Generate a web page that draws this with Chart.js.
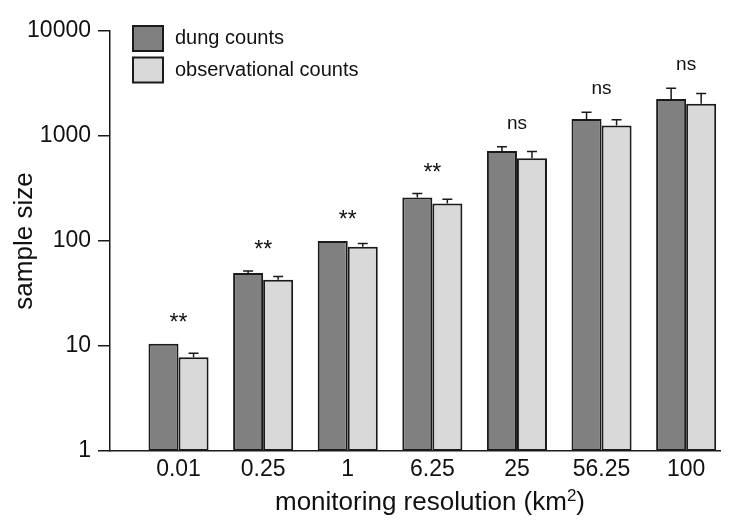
<!DOCTYPE html>
<html>
<head>
<meta charset="utf-8">
<script src="https://cdn.jsdelivr.net/npm/chart.js@4.4.0/dist/chart.umd.min.js"></script>
<style>
    html, body { margin: 0; padding: 0; background: #fff; }
    #wrap { width: 739px; height: 521px; }
</style>
</head>
<body>
<div id="wrap"><canvas id="myBarChart"></canvas></div>
<script>
const categories = ["0.01", "0.25", "1", "6.25", "25", "56.25", "100"];
const dungCounts = [10.5, 49.6, 100, 259, 718, 1449, 2250];
const dungErrTop = [10.5, 51.9, 100, 283, 791, 1679, 2845];
const obsCounts = [7.8, 42.8, 88, 227, 615, 1262, 2033];
const obsErrTop = [8.55, 46, 94.5, 250, 713, 1429, 2535];
const significance = ["**", "**", "**", "**", "ns", "ns", "ns"];
const yTicks = [1, 10, 100, 1000, 10000];

const FONT = "'Liberation Sans', Arial, Helvetica, sans-serif";
const errTops = [dungErrTop, obsErrTop];

// error bars (upper side only) and significance marks
const errorBarPlugin = {
    id: "errorBars",
    afterDatasetsDraw(chart) {
        const ctx = chart.ctx;
        const y = chart.scales.y;
        ctx.save();
        ctx.strokeStyle = "#1a1a1a";
        ctx.lineWidth = 1.5;
        const groupTop = categories.map(() => Infinity);
        chart.data.datasets.forEach((ds, d) => {
            const meta = chart.getDatasetMeta(d);
            meta.data.forEach((bar, i) => {
                const top = errTops[d][i];
                const yTop = y.getPixelForValue(Math.max(top, ds.data[i].y));
                groupTop[i] = Math.min(groupTop[i], yTop);
                if (top <= ds.data[i].y) return;
                ctx.beginPath();
                ctx.moveTo(bar.x, bar.y);
                ctx.lineTo(bar.x, yTop);
                ctx.moveTo(bar.x - 5, yTop);
                ctx.lineTo(bar.x + 5, yTop);
                ctx.stroke();
            });
        });
        const m0 = chart.getDatasetMeta(0).data;
        const m1 = chart.getDatasetMeta(1).data;
        ctx.fillStyle = "#111";
        ctx.textAlign = "center";
        ctx.textBaseline = "alphabetic";
        significance.forEach((s, i) => {
            const cx = (m0[i].x + m1[i].x) / 2;
            if (s === "**") {
                ctx.font = "23px " + FONT;
                ctx.fillText(s, cx, groupTop[i] - 14);
            } else {
                ctx.font = "19px " + FONT;
                ctx.fillText(s, cx, groupTop[i] - 18);
            }
        });
        ctx.restore();
    },
};

// legend box top-left inside the plot, and the x title with superscript
const extrasPlugin = {
    id: "extras",
    afterDraw(chart) {
        const ctx = chart.ctx;
        const area = chart.chartArea;
        ctx.save();
        chart.data.datasets.forEach((ds, d) => {
            const bx = area.left + 23;
            const by = area.top - 5 + d * 31.5;
            ctx.fillStyle = ds.backgroundColor;
            ctx.fillRect(bx, by, 30, 25);
            ctx.strokeStyle = "#1a1a1a";
            ctx.lineWidth = 2;
            ctx.strokeRect(bx, by, 30, 25);
            ctx.fillStyle = "#111";
            ctx.font = "20px " + FONT;
            ctx.textAlign = "left";
            ctx.textBaseline = "middle";
            ctx.fillText(ds.label, bx + 42, by + 12.5);
        });

        const main = "monitoring resolution (km";
        const sup = "2";
        const tail = ")";
        ctx.fillStyle = "#111";
        ctx.textBaseline = "alphabetic";
        ctx.textAlign = "left";
        ctx.font = "26px " + FONT;
        const wMain = ctx.measureText(main).width;
        const wTail = ctx.measureText(tail).width;
        ctx.font = "17px " + FONT;
        const wSup = ctx.measureText(sup).width;
        const total = wMain + wSup + wTail;
        const cx = (area.left + area.right) / 2 + 15;
        let x = cx - total / 2;
        const base = 510;
        ctx.font = "26px " + FONT;
        ctx.fillText(main, x, base);
        x += wMain;
        ctx.font = "17px " + FONT;
        ctx.fillText(sup, x, base - 9);
        x += wSup;
        ctx.font = "26px " + FONT;
        ctx.fillText(tail, x, base);
        ctx.restore();
    },
};

const ctx = document.getElementById("myBarChart").getContext("2d");
const barChart = new Chart(ctx, {
    type: "bar",
    data: {
        datasets: [
            {
                label: "dung counts",
                data: dungCounts.map((v, i) => ({ x: i, y: v })),
                backgroundColor: "#808080",
                borderColor: "#1a1a1a",
                borderWidth: 2,
                borderSkipped: false,
            },
            {
                label: "observational counts",
                data: obsCounts.map((v, i) => ({ x: i, y: v })),
                backgroundColor: "#d9d9d9",
                borderColor: "#1a1a1a",
                borderWidth: 2,
                borderSkipped: false,
            },
        ],
    },
    options: {
        responsive: true,
        maintainAspectRatio: false,
        animation: false,
        categoryPercentage: 0.71,
        barPercentage: 1.0,
        layout: {
            padding: { top: 31, right: 19, bottom: 0, left: 0 },
        },
        plugins: {
            legend: { display: false },
            tooltip: { enabled: false },
        },
        scales: {
            x: {
                type: "linear",
                min: -0.81,
                max: 6.4,
                offset: false,
                afterBuildTicks: (scale) => {
                    scale.ticks = categories.map((c, i) => ({ value: i }));
                },
                afterFit: (scale) => {
                    scale.height = 70;
                },
                ticks: {
                    callback: (value) => categories[value],
                    color: "#111",
                    font: { family: FONT, size: 23 },
                    padding: -3,
                    maxRotation: 0,
                    autoSkip: false,
                },
                grid: { display: false },
                border: { display: true, color: "#1a1a1a", width: 1.5 },
            },
            y: {
                type: "logarithmic",
                min: 1,
                max: 10000,
                afterBuildTicks: (scale) => {
                    scale.ticks = yTicks.map((v) => ({ value: v, major: true }));
                },
                afterFit: (scale) => {
                    scale.width = 110;
                },
                ticks: {
                    callback: (value) => String(value),
                    color: "#111",
                    font: { family: FONT, size: 23 },
                    padding: 7,
                },
                grid: {
                    drawOnChartArea: false,
                    drawTicks: true,
                    tickLength: 12,
                    color: "#1a1a1a",
                    lineWidth: 1.5,
                },
                border: { display: true, color: "#1a1a1a", width: 1.5 },
                title: {
                    display: true,
                    text: "sample size",
                    color: "#111",
                    font: { family: FONT, size: 26 },
                    padding: { top: 9, bottom: 0 },
                },
            },
        },
    },
    plugins: [errorBarPlugin, extrasPlugin],
});
</script>
</body>
</html>
